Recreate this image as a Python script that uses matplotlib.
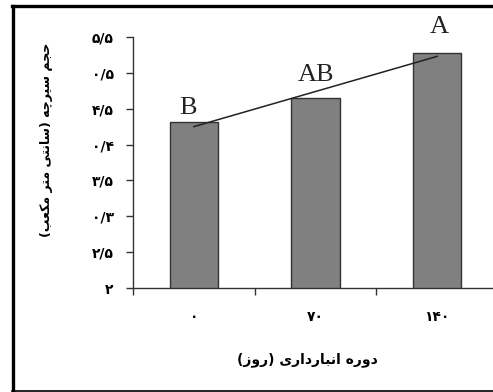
import matplotlib
matplotlib.use('Agg')
import matplotlib.pyplot as plt
from matplotlib.lines import Line2D

# data
days = ['۰', '۷۰', '۱۴۰']
volume = [4.31, 4.65, 5.27]
groups = ['B', 'AB', 'A']
trend_y = [4.25, 5.23]   # thin trend line from first to last bar
yticks = [2, 2.5, 3, 3.5, 4, 4.5, 5, 5.5]
ytick_labels = ['۲', '۲/۵', '۰/۳', '۳/۵', '۰/۴', '۴/۵', '۰/۵', '۵/۵']
ylabel = 'حجم سیرچه (سانتی متر مکعب)'
xlabel = 'دوره انبارداری (روز)'

# Arabic presentation forms: isolated, final, initial, medial
FORMS = {
    'ا': ('\uFE8D', '\uFE8E', None, None),
    'ب': ('\uFE8F', '\uFE90', '\uFE91', '\uFE92'),
    'ت': ('\uFE95', '\uFE96', '\uFE97', '\uFE98'),
    'ج': ('\uFE9D', '\uFE9E', '\uFE9F', '\uFEA0'),
    'ح': ('\uFEA1', '\uFEA2', '\uFEA3', '\uFEA4'),
    'د': ('\uFEA9', '\uFEAA', None, None),
    'ر': ('\uFEAD', '\uFEAE', None, None),
    'ز': ('\uFEAF', '\uFEB0', None, None),
    'س': ('\uFEB1', '\uFEB2', '\uFEB3', '\uFEB4'),
    'ع': ('\uFEC9', '\uFECA', '\uFECB', '\uFECC'),
    'م': ('\uFEE1', '\uFEE2', '\uFEE3', '\uFEE4'),
    'ن': ('\uFEE5', '\uFEE6', '\uFEE7', '\uFEE8'),
    'ه': ('\uFEE9', '\uFEEA', '\uFEEB', '\uFEEC'),
    'و': ('\uFEED', '\uFEEE', None, None),
    'چ': ('\uFB7A', '\uFB7B', '\uFB7C', '\uFB7D'),
    'ک': ('\uFB8E', '\uFB8F', '\uFB90', '\uFB91'),
    'ی': ('\uFBFC', '\uFBFD', '\uFBFE', '\uFBFF'),
}
MIRROR = {'(': ')', ')': '('}


def shape(text):
    out = []
    for i, c in enumerate(text):
        if c not in FORMS:
            out.append(MIRROR.get(c, c))
            continue
        prev = text[i - 1] if i > 0 else ''
        nxt = text[i + 1] if i + 1 < len(text) else ''
        join_prev = prev in FORMS and FORMS[prev][2] is not None
        join_next = FORMS[c][2] is not None and nxt in FORMS
        iso, fin, ini, med = FORMS[c]
        if join_prev and join_next:
            out.append(med)
        elif join_prev:
            out.append(fin)
        elif join_next:
            out.append(ini)
        else:
            out.append(iso)
    return ''.join(reversed(out))


plt.rcParams['font.family'] = ['DejaVu Sans']

W, H = 493, 392
fig = plt.figure(figsize=(W / 100, H / 100), dpi=100)
ax = fig.add_axes([133 / W, 1 - 288 / H, 365 / W, 251 / H])

x = list(range(len(days)))
ax.bar(x, volume, width=0.4, bottom=0, color='#808080', edgecolor='#333333',
       linewidth=1.0, zorder=2)
ax.plot([x[0], x[-1]], trend_y, color='#222222', lw=1.1, zorder=3)

offsets = [(-6, 3), (0, 12), (2, 15)]
for xi, v, g, (dx, dy) in zip(x, volume, groups, offsets):
    ax.annotate(g, (xi, v), xytext=(dx, dy), textcoords='offset pixels',
                ha='center', va='bottom', fontsize=19,
                family='Liberation Serif', color='#222222')

ax.set_xlim(-0.5, 2.5)
ax.set_ylim(2, 5.5)
ax.set_yticks(yticks)
ax.set_yticklabels(ytick_labels, fontsize=10, fontweight='bold')
ax.set_xticks(x)
ax.set_xticklabels(days, fontsize=10, fontweight='bold')
ax.set_xticks([-0.5, 0.5, 1.5], minor=True)
ax.tick_params(axis='x', which='major', length=0, pad=16)
ax.tick_params(axis='x', which='minor', length=5, width=1, direction='out',
               color='#333333')
ax.tick_params(axis='y', length=5, width=1, direction='out', pad=9,
               color='#333333')

for side in ['top', 'right']:
    ax.spines[side].set_visible(False)
for side in ['left', 'bottom']:
    ax.spines[side].set_color('#333333')
    ax.spines[side].set_linewidth(1.0)

fig.text(47 / W, 1 - 140 / H, shape(ylabel), rotation=90, ha='center',
         va='center', fontsize=9, fontweight='bold')
fig.text(307 / W, 1 - 360 / H, shape(xlabel), ha='center', va='center',
         fontsize=10, fontweight='bold')

# outer frame (cropped on the right)
fig.add_artist(Line2D([13 / W, 13 / W], [1 - 391 / H, 1 - 6 / H],
                      transform=fig.transFigure, color='black', lw=2.4))
fig.add_artist(Line2D([12 / W, 1], [1 - 6 / H, 1 - 6 / H],
                      transform=fig.transFigure, color='black', lw=2.4))
fig.add_artist(Line2D([12 / W, 1], [1 - 390.5 / H, 1 - 390.5 / H],
                      transform=fig.transFigure, color='black', lw=1.2))

fig.savefig('out.png', dpi=100)
